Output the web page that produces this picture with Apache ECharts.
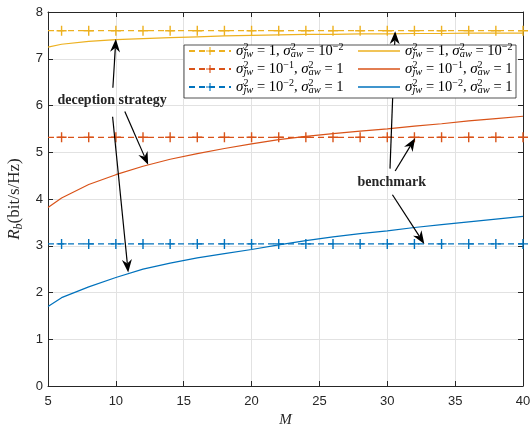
<!DOCTYPE html>
<html><head><meta charset="utf-8">
<script src="https://cdn.jsdelivr.net/npm/echarts@6/dist/echarts.min.js"></script>
<style>html,body{margin:0;padding:0;background:#fff}#c{width:531px;height:427px}</style>
</head><body><div id="c"></div>
<script>
// ---- data ----
const M = [5,6,8,10,12,14,16,18,20,22,24,26,28,30,32,34,36,38,40];
const curveYellow = [7.25,7.31,7.37,7.41,7.43,7.45,7.47,7.49,7.50,7.51,7.52,7.52,7.53,7.53,7.54,7.54,7.55,7.55,7.55];
const curveRed    = [3.82,4.02,4.31,4.52,4.70,4.85,4.97,5.08,5.18,5.27,5.34,5.40,5.45,5.50,5.56,5.61,5.67,5.72,5.77];
const curveBlue   = [1.70,1.89,2.12,2.32,2.50,2.63,2.74,2.83,2.92,3.02,3.11,3.19,3.26,3.32,3.39,3.45,3.51,3.57,3.63];
const benchYellow = [7.60,7.60,7.60,7.60,7.60,7.60,7.60,7.60,7.60,7.60,7.60,7.60,7.60,7.60,7.60,7.60,7.60,7.60,7.60];
const benchRed    = [5.32,5.32,5.32,5.32,5.32,5.32,5.32,5.32,5.32,5.32,5.32,5.32,5.32,5.32,5.32,5.32,5.32,5.32,5.32];
const benchBlue   = [3.04,3.04,3.04,3.04,3.04,3.04,3.04,3.04,3.04,3.04,3.04,3.04,3.04,3.04,3.04,3.04,3.04,3.04,3.04];
const xAxisRange = {min: 5, max: 40, interval: 5};
const yAxisRange = {min: 0, max: 8, interval: 1};
const xName = 'M';
const yName = '{i|R}{b|b}{r|(bit/s/Hz)}';
// legend labels (rich text)
function lab(a, b) {
  return '{i|σ}{s|2}{b|jw}{r| = }' + a + '{r|, }{i|σ}{s|2}{b|aw}{r| = }' + b;
}
const labels = {
  b1: lab('{r|1}', '{r|10}{e|−2}'),
  b2: lab('{r|10}{e|−1}', '{r|1}'),
  b3: lab('{r|10}{e|−2}', '{r|1}'),
  c1: lab('{r|1}', '{r|10}{e|−2}'),
  c2: lab('{r|10}{e|−1}', '{r|1}'),
  c3: lab('{r|10}{e|−2}', '{r|1}')
};
// annotations (data coordinates)
const annoDeception = {text: 'deception strategy', at: [9.72, 6.10],
  arrows: [[[9.78, 6.38], [10.0, 7.42]], [[10.66, 5.87], [12.38, 4.73]], [[9.76, 5.76], [10.91, 2.43]]]};
const annoBenchmark = {text: 'benchmark', at: [30.33, 4.36],
  arrows: [[[30.58, 4.60], [32.05, 5.30]], [[30.38, 4.09], [32.73, 3.04]], [[30.2, 4.65], [30.58, 7.59]]]};

// ---- styles ----
const C = {yellow: '#EDB120', red: '#D95319', blue: '#0072BD', axis: '#262626', grid: '#e2e2e2'};
const PLUS = 'path://M4.3,0 L5.7,0 L5.7,4.3 L10,4.3 L10,5.7 L5.7,5.7 L5.7,10 L4.3,10 L4.3,5.7 L0,5.7 L0,4.3 L4.3,4.3 Z';
const SERIF = '"Liberation Serif", "DejaVu Serif", serif';
const rich = {
  r: {fontFamily: SERIF, fontSize: 14.5, lineHeight: 18, color: '#000'},
  i: {fontFamily: SERIF, fontSize: 15, fontStyle: 'italic', lineHeight: 18, color: '#000'},
  s: {fontFamily: SERIF, fontSize: 10, verticalAlign: 'top', width: 0, color: '#000'},
  e: {fontFamily: SERIF, fontSize: 10, verticalAlign: 'top', color: '#000'},
  b: {fontFamily: SERIF, fontSize: 10.5, fontStyle: 'italic', verticalAlign: 'bottom', color: '#000'}
};

function pairs(ys, skipFirst) {
  return M.map((m, i) => (skipFirst && i === 0) ? {value: [m, ys[i]], symbol: 'none'} : [m, ys[i]]);
}
function benchSeries(name, ys, color) {
  return {name, type: 'line', data: pairs(ys, true), symbol: PLUS, symbolSize: 10, showSymbol: true,
    lineStyle: {color, width: 1.2, type: [6, 4]}, itemStyle: {color}, z: 3, silent: true};
}
function curveSeries(name, ys, color) {
  return {name, type: 'line', data: pairs(ys, false), symbol: 'none', showSymbol: false,
    lineStyle: {color, width: 1.2}, itemStyle: {color}, z: 2, silent: true};
}

const axisCommon = {
  axisLine: {show: true, onZero: false, lineStyle: {color: C.axis, width: 1}},
  axisTick: {show: true, inside: true, length: 5, lineStyle: {color: C.axis}},
};

const option = {
  animation: false,
  backgroundColor: '#fff',
  grid: {left: 48, right: 8, top: 12, bottom: 41, containLabel: false, outerBoundsMode: 'none'},
  xAxis: [
    Object.assign({type: 'value', position: 'bottom', min: xAxisRange.min, max: xAxisRange.max, interval: xAxisRange.interval,
      name: xName, nameLocation: 'middle', nameGap: 27,
      nameTextStyle: {fontFamily: SERIF, fontStyle: 'italic', fontSize: 15, color: C.axis},
      axisLabel: {color: C.axis, fontSize: 13, fontFamily: '"Liberation Sans", Arial, sans-serif', margin: 9},
      splitLine: {show: true, lineStyle: {color: C.grid, width: 1}}}, axisCommon),
    Object.assign({type: 'value', position: 'top', min: xAxisRange.min, max: xAxisRange.max, interval: xAxisRange.interval,
      axisLabel: {show: false}, splitLine: {show: false}}, axisCommon)
  ],
  yAxis: [
    Object.assign({type: 'value', position: 'left', min: yAxisRange.min, max: yAxisRange.max, interval: yAxisRange.interval,
      name: yName, nameLocation: 'middle', nameGap: 20,
      nameTextStyle: {rich: {
        i: {fontFamily: SERIF, fontStyle: 'italic', fontSize: 17, color: C.axis},
        b: {fontFamily: SERIF, fontStyle: 'italic', fontSize: 12, verticalAlign: 'bottom', color: C.axis},
        r: {fontFamily: SERIF, fontSize: 17, lineHeight: 20, color: C.axis}}},
      axisLabel: {color: C.axis, fontSize: 13, fontFamily: '"Liberation Sans", Arial, sans-serif', margin: 5},
      splitLine: {show: true, lineStyle: {color: C.grid, width: 1}}}, axisCommon),
    Object.assign({type: 'value', position: 'right', min: yAxisRange.min, max: yAxisRange.max, interval: yAxisRange.interval,
      axisLabel: {show: false}, splitLine: {show: false}}, axisCommon)
  ],
  legend: [
    {data: ['b1', 'b2', 'b3'], orient: 'vertical', left: 183, top: 37, padding: 5, itemWidth: 42, itemHeight: 10, itemGap: 0,
      formatter: n => labels[n], textStyle: {rich}, z: 10, selectedMode: false},
    {data: ['c1', 'c2', 'c3'], orient: 'vertical', left: 353, top: 37, padding: 5, itemWidth: 42, itemHeight: 1.6, itemGap: 0,
      icon: 'rect', formatter: n => labels[n], textStyle: {rich}, z: 10, selectedMode: false}
  ],
  series: [
    benchSeries('b1', benchYellow, C.yellow),
    benchSeries('b2', benchRed, C.red),
    benchSeries('b3', benchBlue, C.blue),
    curveSeries('c1', curveYellow, C.yellow),
    curveSeries('c2', curveRed, C.red),
    curveSeries('c3', curveBlue, C.blue)
  ]
};

const chart = echarts.init(document.getElementById('c'));
chart.setOption(option);

const toPx = p => chart.convertToPixel({xAxisIndex: 0, yAxisIndex: 0}, p);
function arrow(from, to) {
  const a = toPx(from), b = toPx(to);
  const dx = b[0] - a[0], dy = b[1] - a[1];
  const len = Math.hypot(dx, dy), ux = dx / len, uy = dy / len, nx = -uy, ny = ux;
  const L = 13, W = 10, notch = 4;
  const bx = b[0] - L * ux, by = b[1] - L * uy;
  const mx = b[0] - (L - notch) * ux, my = b[1] - (L - notch) * uy;
  return [
    {type: 'line', shape: {x1: a[0], y1: a[1], x2: mx, y2: my}, style: {stroke: '#000', lineWidth: 1.2}, z: 5, silent: true},
    {type: 'polygon', shape: {points: [b, [bx + nx * W / 2, by + ny * W / 2], [mx, my], [bx - nx * W / 2, by - ny * W / 2]]},
      style: {fill: '#000'}, z: 6, silent: true}
  ];
}
const elems = [];
// legend box
elems.push({type: 'rect', shape: {x: 184, y: 45, width: 332, height: 53},
  style: {fill: '#fff', stroke: C.axis, lineWidth: 0.8}, z: 9, silent: true});
[annoDeception, annoBenchmark].forEach(an => {
  an.arrows.forEach(ar => arrow(ar[0], ar[1]).forEach(e => elems.push(e)));
  const p = toPx(an.at);
  elems.push({type: 'text', x: p[0], y: p[1], style: {text: an.text, font: 'bold 14px ' + SERIF,
    fill: '#262626', align: 'center', verticalAlign: 'middle'}, z: 7, silent: true});
});
chart.setOption({graphic: {elements: elems}});
</script></body></html>
